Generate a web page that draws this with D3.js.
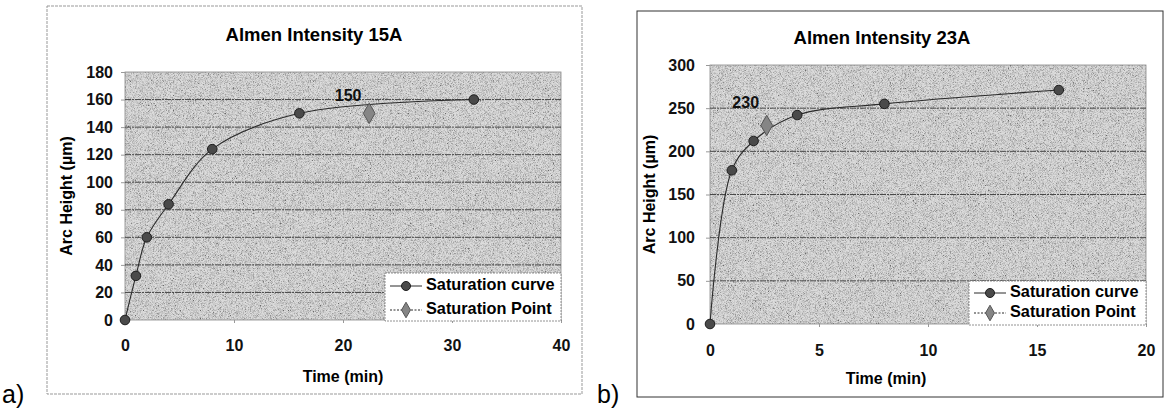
<!DOCTYPE html>
<html>
<head>
<meta charset="utf-8">
<script src="https://cdn.jsdelivr.net/npm/d3@7"></script>
<style>
  body { margin: 0; background: #fff; }
  svg { display: block; font-family: "Liberation Sans", Arial, sans-serif; }
</style>
</head>
<body>
<svg id="chart" width="1165" height="408"></svg>
<script>
// panel a - Almen Intensity 15A
const timeA = [0, 1, 2, 4, 8, 16, 32]
const heightA = [0, 32, 60, 84, 124, 150, 160]
const satTimeA = 22.4, satHeightA = 150
const xTicksA = [0, 10, 20, 30, 40]
const yTicksA = [0, 20, 40, 60, 80, 100, 120, 140, 160, 180]

// panel b - Almen Intensity 23A
const timeB = [0, 1, 2, 4, 8, 16]
const heightB = [0, 178, 212, 242, 255, 271]
const satTimeB = 2.6, satHeightB = 230
const xTicksB = [0, 5, 10, 15, 20]
const yTicksB = [0, 50, 100, 150, 200, 250, 300]

const legendNames = ["Saturation curve", "Saturation Point"]

let svg = d3.select("#chart")

// scanned-paper look for the plot area
let defs = svg.append("defs")
let filt = defs.append("filter").attr("id", "noise").attr("x", 0).attr("y", 0).attr("width", 1).attr("height", 1)
filt.append("feTurbulence").attr("type", "fractalNoise").attr("baseFrequency", 1.4).attr("numOctaves", 1).attr("seed", 4)
filt.append("feColorMatrix").attr("type", "matrix")
    .attr("values", "2.6 0 0 0 -0.6  2.6 0 0 0 -0.6  2.6 0 0 0 -0.6  0 0 0 0 1")

function drawPanel(p) {
    let g = svg.append("g")

    // outer frame
    g.append("rect")
        .attr("x", p.frame[0]).attr("y", p.frame[1])
        .attr("width", p.frame[2] - p.frame[0]).attr("height", p.frame[3] - p.frame[1])
        .attr("fill", "none")
        .attr("stroke", p.frameSolid ? "#333" : "#999")
        .attr("stroke-width", 1)
        .attr("stroke-dasharray", p.frameSolid ? null : "3,1")

    let xScale = d3.scaleLinear().domain(p.xDomain).range([p.left, p.right])
    let yScale = d3.scaleLinear().domain(p.yDomain).range([p.bottom, p.top])

    // plot area background
    g.append("rect")
        .attr("x", p.left).attr("y", p.top)
        .attr("width", p.right - p.left).attr("height", p.bottom - p.top)
        .attr("fill", "#c0c0c0")
    g.append("rect")
        .attr("x", p.left).attr("y", p.top)
        .attr("width", p.right - p.left).attr("height", p.bottom - p.top)
        .attr("filter", "url(#noise)")
        .attr("opacity", 0.45)
    g.append("rect")
        .attr("x", p.left).attr("y", p.top)
        .attr("width", p.right - p.left).attr("height", p.bottom - p.top)
        .attr("fill", "none").attr("stroke", "#888").attr("stroke-width", 0.8)

    // gridlines
    g.selectAll(".grid")
        .data(p.yTicks.filter(d => d > p.yDomain[0] && d < p.yDomain[1]))
        .join("line")
        .attr("x1", p.left).attr("x2", p.right)
        .attr("y1", d => yScale(d)).attr("y2", d => yScale(d))
        .attr("stroke", "#3a3a3a")
        .attr("stroke-width", 0.9)
        .attr("stroke-dasharray", "6,1,2,1")

    // axes
    let yAxis = g.append("g")
        .attr("transform", `translate(${p.left},0)`)
        .call(d3.axisLeft(yScale).tickValues(p.yTicks).tickSize(4).tickPadding(p.yPad))
    let xAxis = g.append("g")
        .attr("transform", `translate(0,${p.bottom})`)
        .call(d3.axisBottom(xScale).tickValues(p.xTicks).tickSize(3).tickPadding(p.xPad))
    for (let ax of [xAxis, yAxis]) {
        ax.select(".domain").remove()
        ax.selectAll("line").attr("stroke", "#999")
        ax.selectAll("text")
            .attr("fill", "#111")
            .style("font-size", "16px")
            .style("font-weight", "bold")
            .style("font-family", "'Liberation Sans', Arial, sans-serif")
    }

    // titles
    g.append("text")
        .attr("x", p.titleX).attr("y", p.titleY)
        .attr("text-anchor", "middle")
        .style("font-size", "18.5px").style("font-weight", "bold")
        .text(p.title)
    g.append("text")
        .attr("transform", `translate(${p.yLabelX},${(p.top + p.bottom) / 2}) rotate(-90)`)
        .attr("text-anchor", "middle")
        .style("font-size", "16px").style("font-weight", "bold")
        .text("Arc Height (µm)")
    g.append("text")
        .attr("x", p.xLabelX).attr("y", p.xLabelY)
        .attr("text-anchor", "middle")
        .style("font-size", "16px").style("font-weight", "bold")
        .text("Time (min)")
    g.append("text")
        .attr("x", p.tagX).attr("y", 403)
        .style("font-size", "25px")
        .text(p.tag)

    // smoothed saturation curve
    let pts = p.times.map((t, i) => [t, p.heights[i]])
    let line = d3.line()
        .x(d => xScale(d[0]))
        .y(d => yScale(d[1]))
        .curve(d3.curveCatmullRom.alpha(0.5))
    g.append("path")
        .datum(pts)
        .attr("d", line)
        .attr("fill", "none")
        .attr("stroke", "#2a2a2a")
        .attr("stroke-width", 1.1)

    g.selectAll(".dot")
        .data(pts)
        .join("circle")
        .attr("cx", d => xScale(d[0]))
        .attr("cy", d => yScale(d[1]))
        .attr("r", 4.8)
        .attr("fill", "#4a4a4a")
        .attr("stroke", "#1e1e1e")
        .attr("stroke-width", 1)

    // saturation point
    g.append("path")
        .attr("d", d3.symbol(d3.symbolDiamond, 120)())
        .attr("transform", `translate(${xScale(p.satTime)},${yScale(p.satHeight)})`)
        .attr("fill", "#858585")
        .attr("stroke", "#555")
        .attr("stroke-width", 1)
    g.append("text")
        .attr("x", xScale(p.satTime) + p.satDx)
        .attr("y", yScale(p.satHeight) + p.satDy)
        .attr("text-anchor", "middle")
        .attr("dominant-baseline", "middle")
        .style("font-size", "16px").style("font-weight", "bold")
        .attr("fill", "#111")
        .text(p.satHeight)

    // legend
    let lg = g.append("g").attr("transform", `translate(${p.legend[0]},${p.legend[1]})`)
    lg.append("rect")
        .attr("width", p.right - p.legend[0]).attr("height", p.legend[2])
        .attr("fill", "#fff")
        .attr("stroke", "#777").attr("stroke-width", 0.8)
        .attr("stroke-dasharray", "2,1")
    legendNames.forEach((name, i) => {
        let yy = p.legendRows[i]
        lg.append("line")
            .attr("x1", 5).attr("x2", 37).attr("y1", yy).attr("y2", yy)
            .attr("stroke", "#2a2a2a").attr("stroke-width", 1)
            .attr("stroke-dasharray", i === 1 ? "2,1.5" : null)
        if (i === 0) {
            lg.append("circle").attr("cx", 21).attr("cy", yy).attr("r", 4.5)
                .attr("fill", "#4a4a4a").attr("stroke", "#1e1e1e")
        } else {
            lg.append("path").attr("d", d3.symbol(d3.symbolDiamond, 70)())
                .attr("transform", `translate(21,${yy})`)
                .attr("fill", "#858585").attr("stroke", "#555")
        }
        lg.append("text")
            .attr("x", 41).attr("y", yy)
            .attr("dominant-baseline", "middle")
            .style("font-size", "16.3px").style("font-weight", "bold")
            .text(name)
    })
}

drawPanel({
    title: "Almen Intensity 15A", tag: "a)", tagX: 2,
    frame: [47, 6, 582, 394], frameSolid: false,
    left: 125, right: 561, top: 72, bottom: 320,
    xDomain: [0, 40], yDomain: [0, 180],
    xTicks: xTicksA, yTicks: yTicksA, xPad: 17, yPad: 8,
    times: timeA, heights: heightA,
    satTime: satTimeA, satHeight: satHeightA, satDx: -21, satDy: -17,
    titleX: 314, titleY: 41, yLabelX: 72, xLabelX: 343, xLabelY: 382,
    legend: [385, 273, 48], legendRows: [13, 37]
})

drawPanel({
    title: "Almen Intensity 23A", tag: "b)", tagX: 597,
    frame: [637, 11, 1163, 397], frameSolid: true,
    left: 710, right: 1146, top: 65, bottom: 324,
    xDomain: [0, 20], yDomain: [0, 300],
    xTicks: xTicksB, yTicks: yTicksB, xPad: 18, yPad: 11,
    times: timeB, heights: heightB,
    satTime: satTimeB, satHeight: satHeightB, satDx: -21, satDy: -22,
    titleX: 882, titleY: 44, yLabelX: 655, xLabelX: 886, xLabelY: 384,
    legend: [969, 281, 44], legendRows: [12, 32]
})
</script>
</body>
</html>
